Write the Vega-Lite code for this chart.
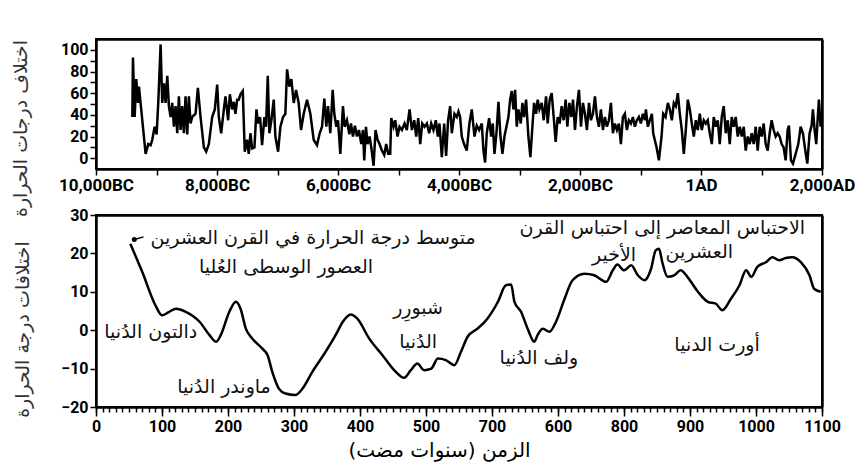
{
  "$schema": "https://vega.github.io/schema/vega-lite/v6.json",
  "background": "white",
  "padding": {"left": 10, "top": 38, "right": 0, "bottom": 3},
  "spacing": 46,
  "bounds": "flush",
  "config": {
    "view": {"stroke": "black", "strokeWidth": 2},
    "axis": {"labelFont": "Roboto", "labelFontWeight": "bold", "labelFontSize": 16, "labelColor": "black", "labelFlush": false, "tickColor": "black", "tickWidth": 1.5, "domain": false, "grid": false, "titleFont": "DejaVu Sans", "titleFontSize": 19, "titleFontWeight": "normal", "titleColor": "#333"}
  },
  "datasets": {
    "top": [
      {"year":-9400,"anomaly":38},{"year":-9389,"anomaly":93},{"year":-9361,"anomaly":38},{"year":-9334,"anomaly":73},{"year":-9306,"anomaly":51},{"year":-9290,"anomaly":66},{"year":-9235,"anomaly":35},{"year":-9180,"anomaly":4},{"year":-9136,"anomaly":13},{"year":-9097,"anomaly":12},{"year":-9070,"anomaly":17},{"year":-9031,"anomaly":29},{"year":-8998,"anomaly":22},{"year":-8971,"anomaly":51},{"year":-8932,"anomaly":105},{"year":-8905,"anomaly":51},{"year":-8877,"anomaly":69},{"year":-8850,"anomaly":51},{"year":-8822,"anomaly":76},{"year":-8795,"anomaly":48},{"year":-8767,"anomaly":38},{"year":-8740,"anomaly":51},{"year":-8712,"anomaly":29},{"year":-8685,"anomaly":48},{"year":-8657,"anomaly":23},{"year":-8630,"anomaly":57},{"year":-8602,"anomaly":26},{"year":-8575,"anomaly":48},{"year":-8547,"anomaly":23},{"year":-8520,"anomaly":57},{"year":-8492,"anomaly":22},{"year":-8465,"anomaly":57},{"year":-8437,"anomaly":32},{"year":-8410,"anomaly":38},{"year":-8355,"anomaly":41},{"year":-8316,"anomaly":65},{"year":-8272,"anomaly":38},{"year":-8217,"anomaly":10},{"year":-8179,"anomaly":6},{"year":-8135,"anomaly":13},{"year":-8080,"anomaly":38},{"year":-8036,"anomaly":45},{"year":-7997,"anomaly":68},{"year":-7970,"anomaly":38},{"year":-7931,"anomaly":23},{"year":-7887,"anomaly":45},{"year":-7860,"anomaly":57},{"year":-7816,"anomaly":35},{"year":-7788,"anomaly":59},{"year":-7750,"anomaly":45},{"year":-7722,"anomaly":52},{"year":-7695,"anomaly":41},{"year":-7667,"anomaly":54},{"year":-7640,"anomaly":54},{"year":-7612,"anomaly":59},{"year":-7574,"anomaly":62},{"year":-7541,"anomaly":6},{"year":-7502,"anomaly":17},{"year":-7475,"anomaly":4},{"year":-7447,"anomaly":23},{"year":-7420,"anomaly":9},{"year":-7381,"anomaly":10},{"year":-7348,"anomaly":45},{"year":-7321,"anomaly":32},{"year":-7288,"anomaly":38},{"year":-7255,"anomaly":12},{"year":-7216,"anomaly":38},{"year":-7189,"anomaly":29},{"year":-7161,"anomaly":76},{"year":-7134,"anomaly":23},{"year":-7101,"anomaly":35},{"year":-7062,"anomaly":54},{"year":-7035,"anomaly":20},{"year":-6990,"anomaly":6},{"year":-6952,"anomaly":29},{"year":-6908,"anomaly":38},{"year":-6870,"anomaly":41},{"year":-6842,"anomaly":82},{"year":-6804,"anomaly":66},{"year":-6771,"anomaly":73},{"year":-6732,"anomaly":51},{"year":-6693,"anomaly":63},{"year":-6650,"anomaly":51},
      {"year":-6611,"anomaly":26},{"year":-6567,"anomaly":41},{"year":-6512,"anomaly":54},{"year":-6457,"anomaly":41},{"year":-6402,"anomaly":17},{"year":-6347,"anomaly":12},{"year":-6303,"anomaly":23},{"year":-6264,"anomaly":29},{"year":-6226,"anomaly":55},{"year":-6193,"anomaly":29},{"year":-6165,"anomaly":48},{"year":-6127,"anomaly":23},{"year":-6088,"anomaly":63},{"year":-6061,"anomaly":41},{"year":-6028,"anomaly":29},{"year":-6000,"anomaly":35},{"year":-5962,"anomaly":4},{"year":-5918,"anomaly":48},{"year":-5890,"anomaly":29},{"year":-5852,"anomaly":35},{"year":-5813,"anomaly":22},{"year":-5786,"anomaly":32},{"year":-5753,"anomaly":20},{"year":-5720,"anomaly":30},{"year":-5687,"anomaly":20},{"year":-5654,"anomaly":26},{"year":-5615,"anomaly":13},{"year":-5588,"anomaly":26},{"year":-5566,"anomaly":-2},{"year":-5538,"anomaly":29},{"year":-5511,"anomaly":13},{"year":-5478,"anomaly":20},{"year":-5450,"anomaly":10},{"year":-5412,"anomaly":-7},{"year":-5379,"anomaly":26},{"year":-5346,"anomaly":17},{"year":-5313,"anomaly":13},{"year":-5274,"anomaly":7},{"year":-5236,"anomaly":3},{"year":-5203,"anomaly":13},{"year":-5170,"anomaly":4},{"year":-5137,"anomaly":4},{"year":-5120,"anomaly":37},{"year":-5082,"anomaly":29},{"year":-5054,"anomaly":35},{"year":-5016,"anomaly":20},{"year":-4983,"anomaly":29},{"year":-4944,"anomaly":26},{"year":-4900,"anomaly":32},{"year":-4862,"anomaly":26},{"year":-4817,"anomaly":45},{"year":-4779,"anomaly":26},{"year":-4740,"anomaly":35},{"year":-4707,"anomaly":20},{"year":-4674,"anomaly":37},{"year":-4641,"anomaly":13},{"year":-4608,"anomaly":32},{"year":-4570,"anomaly":29},{"year":-4531,"anomaly":32},{"year":-4493,"anomaly":23},{"year":-4460,"anomaly":32},{"year":-4422,"anomaly":26},{"year":-4383,"anomaly":35},{"year":-4350,"anomaly":20},{"year":-4323,"anomaly":32},{"year":-4284,"anomaly":1},{"year":-4245,"anomaly":32},{"year":-4213,"anomaly":2},{"year":-4180,"anomaly":35},{"year":-4147,"anomaly":48},{"year":-4119,"anomaly":23},{"year":-4075,"anomaly":41},{"year":-4037,"anomaly":38},{"year":-4009,"anomaly":43},{"year":-3982,"anomaly":38},{"year":-3954,"anomaly":20},{"year":-3916,"anomaly":13},{"year":-3872,"anomaly":7},{"year":-3828,"anomaly":32},{"year":-3789,"anomaly":45},
      {"year":-3744,"anomaly":20},{"year":-3706,"anomaly":30},{"year":-3667,"anomaly":26},{"year":-3623,"anomaly":32},{"year":-3596,"anomaly":7},{"year":-3568,"anomaly":-4},{"year":-3541,"anomaly":23},{"year":-3502,"anomaly":37},{"year":-3469,"anomaly":20},{"year":-3442,"anomaly":32},{"year":-3414,"anomaly":4},{"year":-3381,"anomaly":23},{"year":-3348,"anomaly":52},{"year":-3315,"anomaly":20},{"year":-3282,"anomaly":4},{"year":-3249,"anomaly":20},{"year":-3216,"anomaly":29},{"year":-3183,"anomaly":38},{"year":-3155,"anomaly":54},{"year":-3128,"anomaly":62},{"year":-3100,"anomaly":45},{"year":-3073,"anomaly":63},{"year":-3045,"anomaly":29},{"year":-3018,"anomaly":45},{"year":-2979,"anomaly":32},{"year":-2952,"anomaly":51},{"year":-2924,"anomaly":38},{"year":-2891,"anomaly":54},{"year":-2853,"anomaly":20},{"year":-2820,"anomaly":1},{"year":-2787,"anomaly":29},{"year":-2759,"anomaly":51},{"year":-2726,"anomaly":41},{"year":-2699,"anomaly":54},{"year":-2671,"anomaly":45},{"year":-2633,"anomaly":51},{"year":-2600,"anomaly":35},{"year":-2561,"anomaly":57},{"year":-2534,"anomaly":32},{"year":-2501,"anomaly":54},{"year":-2468,"anomaly":60},{"year":-2435,"anomaly":38},{"year":-2402,"anomaly":15},{"year":-2369,"anomaly":38},{"year":-2336,"anomaly":32},{"year":-2303,"anomaly":48},{"year":-2270,"anomaly":35},{"year":-2237,"anomaly":54},{"year":-2209,"anomaly":29},{"year":-2176,"anomaly":51},{"year":-2143,"anomaly":38},{"year":-2116,"anomaly":54},{"year":-2083,"anomaly":26},{"year":-2050,"anomaly":48},{"year":-2017,"anomaly":63},{"year":-1984,"anomaly":29},{"year":-1951,"anomaly":51},{"year":-1918,"anomaly":41},{"year":-1885,"anomaly":26},{"year":-1852,"anomaly":51},{"year":-1819,"anomaly":35},{"year":-1786,"anomaly":41},{"year":-1753,"anomaly":57},{"year":-1720,"anomaly":38},{"year":-1687,"anomaly":29},{"year":-1654,"anomaly":45},{"year":-1621,"anomaly":26},{"year":-1588,"anomaly":38},{"year":-1555,"anomaly":29},{"year":-1522,"anomaly":35},{"year":-1489,"anomaly":51},{"year":-1456,"anomaly":23},{"year":-1423,"anomaly":32},{"year":-1390,"anomaly":26},{"year":-1357,"anomaly":32},{"year":-1324,"anomaly":13},{"year":-1291,"anomaly":38},{"year":-1258,"anomaly":41},{"year":-1225,"anomaly":26},{"year":-1192,"anomaly":35},{"year":-1159,"anomaly":32},{"year":-1126,"anomaly":38},{"year":-1093,"anomaly":29},{"year":-1060,"anomaly":35},{"year":-1027,"anomaly":38},{"year":-994,"anomaly":32},{"year":-961,"anomaly":41},{"year":-928,"anomaly":35},
      {"year":-911,"anomaly":45},{"year":-878,"anomaly":29},{"year":-845,"anomaly":35},{"year":-812,"anomaly":41},{"year":-790,"anomaly":23},{"year":-735,"anomaly":10},{"year":-696,"anomaly":-2},{"year":-652,"anomaly":20},{"year":-625,"anomaly":41},{"year":-586,"anomaly":38},{"year":-548,"anomaly":51},{"year":-515,"anomaly":45},{"year":-482,"anomaly":35},{"year":-449,"anomaly":51},{"year":-416,"anomaly":48},{"year":-383,"anomaly":60},{"year":-350,"anomaly":41},{"year":-317,"anomaly":26},{"year":-284,"anomaly":4},{"year":-251,"anomaly":26},{"year":-218,"anomaly":54},{"year":-185,"anomaly":45},{"year":-152,"anomaly":32},{"year":-119,"anomaly":20},{"year":-86,"anomaly":35},{"year":-53,"anomaly":26},{"year":-20,"anomaly":41},{"year":13,"anomaly":26},{"year":46,"anomaly":35},{"year":79,"anomaly":32},{"year":112,"anomaly":35},{"year":145,"anomaly":23},{"year":178,"anomaly":13},{"year":211,"anomaly":38},{"year":244,"anomaly":29},{"year":277,"anomaly":35},{"year":310,"anomaly":13},{"year":343,"anomaly":38},{"year":376,"anomaly":48},{"year":409,"anomaly":23},{"year":442,"anomaly":35},{"year":475,"anomaly":13},{"year":508,"anomaly":38},{"year":541,"anomaly":29},{"year":574,"anomaly":38},{"year":607,"anomaly":20},{"year":640,"anomaly":29},{"year":673,"anomaly":20},{"year":706,"anomaly":29},{"year":739,"anomaly":7},{"year":772,"anomaly":20},{"year":805,"anomaly":13},{"year":838,"anomaly":23},{"year":871,"anomaly":13},{"year":904,"anomaly":29},{"year":937,"anomaly":7},{"year":970,"anomaly":29},{"year":1003,"anomaly":20},{"year":1036,"anomaly":32},{"year":1069,"anomaly":13},{"year":1102,"anomaly":7},{"year":1135,"anomaly":23},{"year":1168,"anomaly":35},{"year":1201,"anomaly":26},{"year":1234,"anomaly":20},{"year":1267,"anomaly":23},{"year":1300,"anomaly":20},{"year":1333,"anomaly":13},{"year":1366,"anomaly":10},{"year":1399,"anomaly":-2},{"year":1432,"anomaly":26},{"year":1454,"anomaly":30},{"year":1487,"anomaly":-2},{"year":1520,"anomaly":-5},{"year":1564,"anomaly":4},{"year":1608,"anomaly":13},{"year":1647,"anomaly":29},{"year":1685,"anomaly":23},{"year":1724,"anomaly":7},{"year":1757,"anomaly":-5},{"year":1795,"anomaly":23},{"year":1828,"anomaly":30},{"year":1850,"anomaly":45},{"year":1878,"anomaly":26},{"year":1905,"anomaly":13},{"year":1927,"anomaly":35},{"year":1949,"anomaly":54},{"year":1977,"anomaly":29}
    ],
    "bottom": [
      {"years":52,"anomaly":22.5},{"years":70,"anomaly":15.2},{"years":90,"anomaly":6.5},{"years":100,"anomaly":3.9},{"years":111,"anomaly":4.8},{"years":121,"anomaly":5.6},{"years":136,"anomaly":4.8},{"years":157,"anomaly":2.2},{"years":172,"anomaly":-1.3},{"years":182,"anomaly":-3},{"years":189,"anomaly":-1.3},{"years":202,"anomaly":4.8},{"years":212,"anomaly":7.4},{"years":219,"anomaly":5.6},{"years":227,"anomaly":0.4},{"years":237,"anomaly":-2.2},{"years":252,"anomaly":-4.8},{"years":260,"anomaly":-6.5},{"years":267,"anomaly":-10.8},{"years":277,"anomaly":-15.2},{"years":287,"anomaly":-16.5},{"years":302,"anomaly":-16.9},{"years":313,"anomaly":-15.2},{"years":328,"anomaly":-10.8},{"years":348,"anomaly":-5.6},{"years":363,"anomaly":-1.3},{"years":374,"anomaly":2.2},{"years":386,"anomaly":4.1},{"years":396,"anomaly":3},{"years":414,"anomaly":-2.2},{"years":434,"anomaly":-6.5},{"years":454,"anomaly":-10.8},{"years":467,"anomaly":-12.4},{"years":477,"anomaly":-10.4},{"years":487,"anomaly":-8.7},{"years":497,"anomaly":-10.4},{"years":508,"anomaly":-10},{"years":518,"anomaly":-7.4},{"years":530,"anomaly":-7.8},{"years":543,"anomaly":-9.1},{"years":553,"anomaly":-5.6},{"years":563,"anomaly":-1.7},{"years":578,"anomaly":0.4},{"years":593,"anomaly":3},{"years":609,"anomaly":7.4},{"years":621,"anomaly":11.7},{"years":629,"anomaly":11.9},{"years":634,"anomaly":7.4},{"years":644,"anomaly":4.8},{"years":654,"anomaly":0.4},{"years":664,"anomaly":-3},{"years":669,"anomaly":-1.3},{"years":677,"anomaly":0.4},{"years":687,"anomaly":-0.4},{"years":697,"anomaly":2.2},{"years":710,"anomaly":8.2},{"years":722,"anomaly":13},{"years":740,"anomaly":14.7},{"years":755,"anomaly":14.3},{"years":773,"anomaly":12.6},{"years":783,"anomaly":15.6},{"years":790,"anomaly":17.1},{"years":800,"anomaly":15.6},{"years":811,"anomaly":16.9},{"years":821,"anomaly":14.3},{"years":831,"anomaly":13},{"years":841,"anomaly":16},{"years":848,"anomaly":20.8},{"years":853,"anomaly":21.2},{"years":858,"anomaly":17.7},{"years":866,"anomaly":13.9},{"years":876,"anomaly":14.3},{"years":886,"anomaly":15.6},{"years":896,"anomaly":13.9},{"years":912,"anomaly":10},{"years":927,"anomaly":7.4},{"years":939,"anomaly":6.9},{"years":949,"anomaly":5.2},{"years":962,"anomaly":8.2},{"years":975,"anomaly":11.7},{"years":985,"anomaly":15.6},{"years":993,"anomaly":13.9},{"years":1002,"anomaly":16.5},{"years":1015,"anomaly":17.7},{"years":1025,"anomaly":19},{"years":1035,"anomaly":18.2},{"years":1045,"anomaly":18.8},{"years":1055,"anomaly":19},{"years":1068,"anomaly":17.7},{"years":1081,"anomaly":14.3},{"years":1088,"anomaly":10.8},{"years":1098,"anomaly":10}
    ],
    "notes": [
      {"years":329,"anomaly":23.9,"label":"متوسط درجة الحرارة في القرن العشرين"},
      {"years":288,"anomaly":16.4,"label":"العصور الوسطى العُليا"},
      {"years":83,"anomaly":-0.5,"label":"دالتون الدُنيا"},
      {"years":194,"anomaly":-14.8,"label":"ماوندر الدُنيا"},
      {"years":488,"anomaly":5.7,"label":"شبورِر"},
      {"years":488,"anomaly":-3.1,"label":"الدُنيا"},
      {"years":671,"anomaly":-7.3,"label":"ولف الدُنيا"},
      {"years":941,"anomaly":-3.9,"label":"أورت الدنيا"},
      {"years":858,"anomaly":26.5,"label":"الاحتباس المعاصر إلى احتباس القرن"},
      {"years":785,"anomaly":19.5,"label":"الأخير"},
      {"years":914,"anomaly":20.3,"label":"العشرين"}
    ],
    "leader": [
      {"years":58,"anomaly":23.6,"endYears":72,"endAnomaly":24.3}
    ]
  },
  "vconcat": [
    {
      "width": 726,
      "height": 130,
      "resolve": {"axis": {"x": "independent", "y": "independent"}},
      "layer": [
        {
          "mark": {"type": "rule", "color": "#9a9a9a", "strokeWidth": 1, "strokeDash": [4, 2]},
          "encoding": {
            "x": {"datum": -10000, "type": "quantitative", "axis": {"orient": "top", "domain": true, "domainColor": "black", "domainWidth": 2.5, "ticks": false, "labels": false, "title": null}},
            "x2": {"datum": 2000},
            "y": {"datum": 0, "type": "quantitative", "axis": {"orient": "right", "domain": true, "domainColor": "black", "domainWidth": 2.5, "ticks": false, "labels": false, "title": null}}
          }
        },
        {
          "data": {"name": "top"},
          "mark": {"type": "line", "color": "black", "strokeWidth": 2.5},
          "encoding": {
            "x": {"field": "year", "type": "quantitative", "scale": {"domain": [-10000, 2000], "nice": false},
              "axis": {"orient": "bottom", "values": [-10000, -9000, -8000, -7000, -6000, -5000, -4000, -3000, -2000, -1000, 0, 1000, 2000], "tickSize": 6, "title": null, "labelFontSize": 17,
                "domain": true, "domainColor": "black", "domainWidth": 2.5,
                "labelExpr": "datum.value % 2000 != 0 ? '' : (datum.value < 0 ? format(-datum.value, ',') + 'BC' : (datum.value == 0 ? '1AD' : format(datum.value, ',') + 'AD'))"}},
            "y": {"field": "anomaly", "type": "quantitative", "scale": {"domain": [-10, 110], "nice": false},
              "axis": {"orient": "left", "values": [0, 10, 20, 30, 40, 50, 60, 70, 80, 90, 100], "tickSize": 6, "domain": true, "domainColor": "black", "domainWidth": 2.5,
                "labelExpr": "datum.value % 20 == 0 ? datum.label : ''",
                "title": "اختلاف درجات الحرارة", "titlePadding": 30, "titleY": 89}}
          }
        }
      ]
    },
    {
      "width": 726,
      "height": 192,
      "resolve": {"axis": {"x": "independent", "y": "independent"}},
      "layer": [
        {
          "mark": {"type": "rule", "color": "#9a9a9a", "strokeWidth": 1, "strokeDash": [4, 2]},
          "encoding": {
            "x": {"datum": 0, "type": "quantitative", "axis": {"orient": "bottom", "tickCount": 110, "labels": false, "tickSize": 5, "title": null}},
            "x2": {"datum": 1100},
            "y": {"datum": 0, "type": "quantitative", "axis": null}
          }
        },
        {
          "data": {"name": "bottom"},
          "mark": {"type": "line", "color": "black", "strokeWidth": 2.5, "interpolate": "monotone"},
          "encoding": {
            "x": {"field": "years", "type": "quantitative", "scale": {"domain": [0, 1100], "nice": false},
              "axis": {"orient": "bottom", "values": [0, 100, 200, 300, 400, 500, 600, 700, 800, 900, 1000, 1100], "tickSize": 9, "format": "d",
                "domain": true, "domainColor": "black", "domainWidth": 2.5,
                "labelExpr": "datum.value == 600 ? '700' : (datum.value == 700 ? '600' : datum.label)",
                "title": "الزمن (سنوات مضت)", "titleFontSize": 20, "titlePadding": 6, "titleColor": "black", "titleX": 343}},
            "y": {"field": "anomaly", "type": "quantitative", "scale": {"domain": [-20, 30], "nice": false},
              "axis": {"orient": "left", "values": [-20, -10, 0, 10, 20, 30], "tickSize": 6, "domain": true, "domainColor": "black", "domainWidth": 2.5,
                "title": "اختلافات درجة الحرارة", "titlePadding": 28, "titleY": 114}}
          }
        },
        {
          "data": {"name": "leader"},
          "mark": {"type": "rule", "color": "black", "strokeWidth": 1.5},
          "encoding": {
            "x": {"field": "years", "type": "quantitative", "axis": {"orient": "top", "domain": true, "domainColor": "black", "domainWidth": 2.5, "ticks": false, "labels": false, "title": null}},
            "x2": {"field": "endYears"},
            "y": {"field": "anomaly", "type": "quantitative", "axis": {"orient": "right", "domain": true, "domainColor": "black", "domainWidth": 2.5, "ticks": false, "labels": false, "title": null}},
            "y2": {"field": "endAnomaly"}
          }
        },
        {
          "data": {"name": "leader"},
          "mark": {"type": "point", "filled": true, "color": "black", "size": 25, "opacity": 1},
          "encoding": {
            "x": {"field": "years", "type": "quantitative", "axis": null},
            "y": {"field": "anomaly", "type": "quantitative", "axis": null}
          }
        },
        {
          "data": {"name": "notes"},
          "mark": {"type": "text", "font": "DejaVu Sans", "fontSize": 19, "color": "#111", "baseline": "middle", "align": "center"},
          "encoding": {
            "x": {"field": "years", "type": "quantitative", "axis": null},
            "y": {"field": "anomaly", "type": "quantitative", "axis": null},
            "text": {"field": "label"}
          }
        }
      ]
    }
  ]
}
